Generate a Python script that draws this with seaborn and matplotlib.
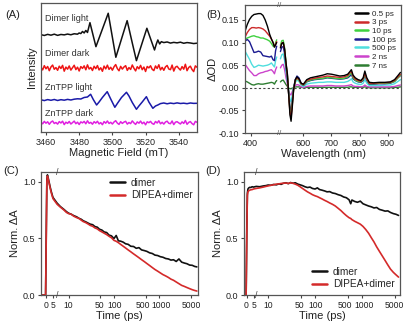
import numpy as np
import matplotlib
matplotlib.use("Agg")
import matplotlib.pyplot as plt
import matplotlib.transforms as mtrans
import seaborn as sns

# ---------------- data ----------------
# (A) EPR spectra: signal relative to each trace baseline
dl_field = [3457, 3459, 3461, 3463, 3465, 3467, 3469, 3471, 3473, 3475, 3477, 3479, 3480, 3481, 3482, 3483,
            3484, 3485, 3486.5, 3488, 3490.1, 3492, 3494, 3496, 3497.5, 3499, 3500.5, 3502.1, 3504, 3506,
            3508.9, 3510, 3512, 3514.5, 3516, 3518, 3520.8, 3522, 3524, 3525.4, 3526.5, 3527.4, 3528.5,
            3529.5, 3531, 3533, 3535, 3537, 3539, 3541, 3543, 3545, 3547, 3549, 3551]
dl_signal = [0.3, -0.5, 0.6, -0.2, 0.8, -0.4, 0.5, 0.1, 0.9, 0.2, 1.2, 0.8, 2.0, 1.4, 3.5, 2.0,
             4.5, 2.5, 12.3, 2.3, -11.7, -3.1, 5.9, 14.9, 21.7, 7.4, -7.0, -22.3, -12.1, -1.3,
             14.3, 6.5, -8.0, -25.7, -18.0, -7.7, 6.7, 1.0, -8.4, -15.0, -9.0, -5.0, -9.0,
             -6.7, -7.6, -7.0, -8.1, -7.4, -7.9, -7.2, -8.3, -7.6, -8.0, -8.6, -8.2]
dd_noise = [0.6, -1.9, 2.3, -0.8, 1.5, -2.7, 1.0, 2.9, -1.3, 0.4,
            -2.3, 1.8, -0.5, 2.6, -3.2, 0.9, -1.2, 2.0, -2.1, 0.3,
            2.7, -1.6, 0.8, -3.0, 1.4, -0.4, 2.1, -1.8, 3.1, -1.0,
            0.5, -2.5, 1.7, -0.7, 2.4, -2.0, 0.2, -3.3, 1.9, -0.9,
            2.8, -1.4, 0.7, -2.2, 1.2, 3.4, -0.6, -2.8, 1.6, -1.1,
            1.0, 2.3, -2.4, 0.4, -1.5, 3.0, -0.3, -2.9, 1.3, -0.8,
            2.6, -1.7, 0.9, -3.5, 1.5, 0.1, 2.2, -1.3, -2.6, 2.0,
            -0.5, 3.2, -1.9, 0.6, -2.3, 1.1, 2.5, -1.0, -1.7, 2.9,
            -3.1, 0.8, 1.7, -0.4, -2.1, 1.4, -1.2, 3.7, -2.7, 0.5,
            1.8, -1.5, -3.6, 2.1, 0.7]
zl_field = [3457, 3459, 3461, 3463, 3465, 3467, 3469, 3471, 3473, 3475, 3477, 3479, 3481, 3483, 3485,
            3486.9, 3488.5, 3490.5, 3492, 3494, 3496.9, 3499, 3501.5, 3503, 3505.5, 3508.5, 3510, 3512,
            3514.5, 3516, 3518, 3520.5, 3522, 3524.4, 3526, 3527.4, 3529, 3531, 3533, 3535, 3537, 3539,
            3541, 3543, 3545, 3547, 3549, 3551]
zl_signal = [0.2, -0.6, 0.4, -0.3, 0.5, -0.5, 0.3, -0.2, 0.6, 0.0, 0.8, 1.2, 1.0, 2.5, 3.0,
             5.7, 0.5, -5.0, -2.0, 2.5, 8.3, 1.0, -7.3, -3.5, 2.5, 7.7, 4.0, -2.5,
             -9.3, -6.0, -2.0, 3.3, -2.0, -8.3, -6.0, -5.0, -3.6, -3.0, -3.8, -3.1, -3.6, -2.9,
             -3.5, -3.2, -3.7, -3.0, -3.4, -3.3]
zd_noise = [0.4, -1.1, 1.3, -0.5, 0.9, -1.6, 0.6, 1.7, -0.8, 0.2,
            -1.4, 1.1, -0.3, 1.5, -1.9, 0.5, -0.7, 1.2, -1.3, 0.1,
            1.6, -1.0, 0.5, -1.8, 0.8, -0.2, 1.3, -1.1, 1.9, -0.6,
            0.3, -1.5, 1.0, -0.4, 1.4, -1.2, 0.1, -2.0, 1.1, -0.5,
            1.7, -0.8, 0.4, -1.3, 0.7, 2.0, -0.4, -1.7, 1.0, -0.7,
            0.6, 1.4, -1.4, 0.2, -0.9, 1.8, -0.2, -1.7, 0.8, -0.5,
            1.6, -1.0, 0.5, -2.1, 0.9, 0.0, 1.3, -0.8, -1.6, 1.2,
            -0.3, 1.9, -1.1, 0.4, -1.4, 0.7, 1.5, -0.6, -1.0, 1.7,
            -1.9, 0.5, 1.0, -0.2, -1.3, 0.8, -0.7, 2.2, -1.6, 0.3,
            1.1, -0.9, -2.1, 1.3, 0.4]
epr_labels = ["Dimer light", "Dimer dark", "ZnTPP light", "ZnTPP dark"]
epr_ticks = [3460, 3480, 3500, 3520, 3540]

# (B) transient absorption spectra
b_labels = ["0.5 ps", "3 ps", "10 ps", "100 ps", "500 ps", "2 ns", "7 ns"]
wl_left = [380, 388, 396, 404, 412, 420, 428, 436, 444, 452, 460, 468, 474, 480, 485, 489, 493]
wl_right = [518, 523, 528, 533, 538, 543, 548, 552, 556, 560, 565, 571, 577, 584, 592, 600, 612, 625,
            640, 655, 670, 685, 700, 715, 730, 745, 758, 766, 771, 777, 785, 795, 805, 813, 819, 826,
            835, 850, 870, 890, 910, 925, 937, 946]
od_left = {
    "0.5 ps": [.125, .140, .151, .158, .162, .163, .164, .164, .160, .150, .136, .118, .108, .100, .090, .095, .100],
    "3 ps":   [.112, .122, .129, .133, .133, .132, .133, .132, .130, .126, .120, .114, .108, .100, .091, .096, .102],
    "10 ps":  [.108, .110, .112, .114, .115, .113, .112, .110, .110, .108, .106, .103, .098, .092, .090, .100, .106],
    "100 ps": [.103, .107, .102, .090, .078, .079, .081, .079, .071, .070, .069, .068, .070, .062, .060, .082, .092],
    "500 ps": [.081, .072, .063, .052, .045, .047, .050, .049, .048, .049, .050, .052, .055, .050, .046, .060, .068],
    "2 ns":   [.052, .045, .038, .033, .027, .027, .031, .033, .034, .036, .037, .039, .040, .036, .031, .040, .046],
    "7 ns":   [.015, .013, .010, .007, .006, .008, .009, .008, .008, .009, .010, .011, .012, .011, .008, .013, .016],
}
od_right = {
    "0.5 ps": [.088, .098, .100, .085, .055, .030, -.020, -.060, -.074, -.045, -.005, .018, .024, .020, .010, .008,
               .018, .022, .024, .026, .028, .031, .030, .028, .026, .027, .030, .036, .040, .028, .022, .018,
               .016, .022, .037, .022, .012, .011, .012, .012, .013, .018, .027, .034],
    "3 ps":   [.090, .099, .100, .084, .052, .026, -.020, -.055, -.066, -.040, -.004, .016, .022, .018, .009, .007,
               .016, .019, .021, .023, .024, .026, .025, .024, .023, .024, .027, .034, .036, .025, .019, .016,
               .014, .020, .032, .019, .010, .010, .011, .011, .012, .016, .024, .030],
    "10 ps":  [.094, .104, .105, .088, .054, .026, -.018, -.050, -.060, -.036, -.003, .015, .021, .017, .008, .006,
               .014, .017, .019, .020, .021, .023, .022, .021, .020, .021, .024, .030, .033, .022, .017, .014,
               .013, .018, .030, .018, .009, .009, .010, .010, .011, .014, .022, .028],
    "100 ps": [.080, .090, .091, .075, .045, .020, -.018, -.042, -.050, -.030, .000, .018, .026, .022, .010, .005,
               .013, .016, .018, .019, .020, .022, .021, .020, .019, .020, .022, .026, .030, .020, .016, .013,
               .012, .016, .028, .016, .008, .008, .009, .009, .010, .014, .022, .027],
    "500 ps": [.064, .073, .075, .060, .035, .014, -.012, -.026, -.031, -.018, .002, .012, .017, .014, .006, .003,
               .008, .010, .011, .012, .012, .013, .013, .012, .012, .012, .014, .017, .020, .013, .010, .008,
               .007, .010, .018, .010, .005, .005, .005, .006, .006, .009, .014, .018],
    "2 ns":   [.044, .050, .052, .040, .022, .008, -.008, -.014, -.016, -.009, .000, .005, .007, .006, .002, .001,
               .003, .004, .004, .004, .004, .005, .005, .004, .004, .004, .005, .006, .007, .004, .003, .003,
               .002, .003, .006, .003, .002, .002, .002, .002, .002, .003, .005, .006],
    "7 ns":   [.013, .016, .017, .012, .007, .003, -.001, -.002, -.002, -.001, .000, .002, .002, .002, .001, .000,
               .001, .001, .001, .001, .001, .001, .001, .001, .001, .001, .001, .002, .002, .001, .001, .001,
               .001, .001, .002, .001, .000, .000, .000, .000, .000, .001, .001, .002],
}
b_xticks = [400, 600, 700, 800, 900]
b_yticks = [-0.10, -0.05, 0.00, 0.05, 0.10, 0.15]

# (C) kinetics
c_t = [-6, -0.3, 0.2, 0.6, 1.0, 1.6, 2.3, 3.0, 3.8, 4.5, 5.0, 5.6, 6.6, 7.9, 9, 10, 11.5, 13, 15, 17,
       19, 21, 24, 27, 30, 34, 38, 43, 48, 54, 61, 69, 78, 88, 100, 112, 125, 140, 160, 180,
       205, 235, 270, 310, 355, 405, 465, 530, 610, 700, 800, 920, 1050, 1200, 1380, 1580, 1800, 2050,
       2350, 2700, 3100, 3550, 4050, 4650, 5300, 6000, 6700]
c_dimer = [0, 0, 0.60, 1.02, 1.06, 1.03, 0.99, 0.95, 0.91, 0.88, 0.86, 0.81, 0.78, 0.755, 0.735, 0.722,
           0.712, 0.700, 0.690, 0.676, 0.668, 0.655, 0.645, 0.634, 0.625, 0.620, 0.604, 0.598, 0.580, 0.573,
           0.556, 0.551, 0.528, 0.522, 0.498, 0.525, 0.478, 0.475, 0.466, 0.452, 0.447, 0.430, 0.428, 0.412,
           0.418, 0.398, 0.392, 0.385, 0.372, 0.366, 0.352, 0.348, 0.338, 0.333, 0.322, 0.318, 0.308, 0.311,
           0.296, 0.318, 0.290, 0.282, 0.276, 0.264, 0.262, 0.252, 0.248]
c_dipea = [0, 0, 0.55, 1.00, 1.05, 1.02, 0.98, 0.94, 0.90, 0.87, 0.85, 0.80, 0.775, 0.75, 0.728, 0.718,
           0.712, 0.695, 0.683, 0.675, 0.660, 0.648, 0.638, 0.626, 0.614, 0.606, 0.592, 0.583, 0.568, 0.557,
           0.545, 0.533, 0.518, 0.505, 0.482, 0.474, 0.462, 0.447, 0.430, 0.415, 0.398, 0.381, 0.363, 0.346,
           0.329, 0.312, 0.295, 0.278, 0.260, 0.242, 0.225, 0.210, 0.195, 0.180, 0.168, 0.155, 0.140, 0.130,
           0.115, 0.100, 0.085, 0.076, 0.066, 0.056, 0.047, 0.040, 0.035]

# (D) kinetics
d_t = [-2.5, -0.3, 0.2, 0.6, 1.0, 1.6, 2.3, 3.0, 4.0, 5.0, 5.6, 6.6, 7.9, 9, 10, 11.5, 13, 15, 17, 19,
       21, 24, 27, 30, 34, 38, 43, 48, 54, 61, 69, 78, 88, 100, 112, 125, 140, 160, 180, 205,
       235, 270, 310, 355, 405, 465, 530, 575, 610, 700, 800, 920, 1050, 1200, 1380, 1580, 1800, 2050,
       2350, 2700, 3100, 3550, 4050, 4650, 5300, 6000]
d_dimer = [0, 0, 0.60, 0.90, 0.935, 0.945, 0.95, 0.948, 0.955, 0.952, 0.958, 0.955, 0.962, 0.965, 0.97,
           0.968, 0.975, 0.972, 0.98, 0.976, 0.985, 0.99, 0.982, 0.992, 0.986, 0.99, 0.978, 0.972, 0.965,
           0.955, 0.948, 0.952, 0.94, 0.935, 0.945, 0.93, 0.925, 0.918, 0.91, 0.912, 0.90, 0.895, 0.885,
           0.878, 0.865, 0.858, 0.84, 0.805, 0.838, 0.825, 0.818, 0.828, 0.805, 0.795, 0.785, 0.778, 0.768,
           0.772, 0.755, 0.748, 0.74, 0.742, 0.728, 0.718, 0.712, 0.702]
d_dipea = [0, 0, 0.55, 0.88, 0.91, 0.92, 0.925, 0.928, 0.93, 0.935, 0.94, 0.945, 0.952, 0.958, 0.962,
           0.968, 0.972, 0.978, 0.98, 0.984, 0.986, 0.988, 0.984, 0.99, 0.985, 0.978, 0.968, 0.955, 0.94,
           0.925, 0.91, 0.898, 0.885, 0.875, 0.868, 0.858, 0.848, 0.835, 0.825, 0.812, 0.80, 0.785, 0.765,
           0.745, 0.722, 0.70, 0.682, 0.675, 0.665, 0.65, 0.638, 0.625, 0.605, 0.578, 0.545, 0.505, 0.468,
           0.425, 0.385, 0.345, 0.305, 0.265, 0.228, 0.20, 0.178, 0.158]
kin_labels = ["dimer", "DIPEA+dimer"]
t_ticks = [0, 5, 10, 50, 100, 500, 1000, 5000]
t_ticklabels = ["0", "5", "10", "50", "100", "500", "1000", "5000"]
n_ticks = [0.0, 0.5, 1.0]

# ---------------- style ----------------
sns.set_theme(style="ticks")
plt.rcParams['font.family'] = ['Liberation Sans', 'DejaVu Sans']
plt.rcParams.update({
    'axes.edgecolor': '#555555', 'axes.linewidth': 0.9,
    'xtick.color': '#444444', 'ytick.color': '#444444',
    'xtick.labelcolor': '#222222', 'ytick.labelcolor': '#222222',
    'xtick.major.size': 2.5, 'ytick.major.size': 2.5,
    'xtick.major.width': 0.8, 'ytick.major.width': 0.8,
    'xtick.major.pad': 1.5, 'ytick.major.pad': 1.5,
    'xtick.labelsize': 6.5, 'ytick.labelsize': 6.5,
    'axes.labelsize': 8, 'axes.labelcolor': '#222222',
})

fig = plt.figure(figsize=(4.15, 3.29), dpi=100)
axA = fig.add_axes([0.0988, 0.5988, 0.3759, 0.3922])
axB = fig.add_axes([0.5904, 0.5957, 0.3759, 0.3891])
axC = fig.add_axes([0.0988, 0.1033, 0.3783, 0.3739])
axD = fig.add_axes([0.5880, 0.1033, 0.3759, 0.3739])


def line(ax, x, y, color, lw=1.0, z=2):
    sns.lineplot(x=np.asarray(x, float), y=np.asarray(y, float), ax=ax, color=color,
                 lw=lw, estimator=None, sort=False, legend=False, zorder=z)
    return ax.lines[-1]


# ---------------- (A) ----------------
offsets = [97, 64, 32, 9.3]
a_colors = ["#111111", "#ee1515", "#1a1aa8", "#e020e0"]
dd_field = np.linspace(3457, 3551, len(dd_noise))
zd_field = np.linspace(3457, 3551, len(zd_noise))
line(axA, dl_field, np.asarray(dl_signal) + offsets[0], a_colors[0], 1.1)
line(axA, dd_field, np.asarray(dd_noise) + offsets[1], a_colors[1], 1.1)
line(axA, zl_field, np.asarray(zl_signal) + offsets[2], a_colors[2], 1.1)
line(axA, zd_field, np.asarray(zd_noise) + offsets[3], a_colors[3], 1.1)
axA.set_xlim(3457, 3551)
axA.set_ylim(0, 129)
axA.set_xticks(epr_ticks)
axA.set_yticks([])
axA.set_xlabel("Magnetic Field (mT)", labelpad=1)
axA.set_ylabel("Intensity", labelpad=3)
for lab, yy in zip(epr_labels, [0.881, 0.61, 0.347, 0.145]):
    axA.text(0.026, yy, lab, transform=axA.transAxes, fontsize=6.5, color="#333333",
             ha="left", va="center")

# ---------------- (B) ----------------
EPS = 0.02
B0, BW = 502.0, 12.0


def fwd_b(x):
    x = np.asarray(x, float)
    return np.where(x <= B0, x, np.where(x >= B0 + BW, x - BW + BW * EPS, B0 + (x - B0) * EPS))


def inv_b(f):
    f = np.asarray(f, float)
    return np.where(f <= B0, f, np.where(f >= B0 + BW * EPS, f + BW - BW * EPS, B0 + (f - B0) / EPS))


axB.set_xscale('function', functions=(fwd_b, inv_b))
b_colors = {"0.5 ps": "#000000", "3 ps": "#cc2a2a", "10 ps": "#3fd13f", "100 ps": "#1a1a90",
            "500 ps": "#4fdede", "2 ns": "#cc44cc", "7 ns": "#2e7d32"}
axB.axhline(0, color="#444444", lw=0.8, ls=(0, (2, 2)), zorder=1)
handles = {}
for lab in reversed(b_labels):
    line(axB, wl_left, od_left[lab], b_colors[lab], 1.0)
    handles[lab] = line(axB, wl_right, od_right[lab], b_colors[lab], 1.0)
axB.set_xlim(380, 948)
axB.set_ylim(-0.10, 0.183)
axB.set_xticks(b_xticks)
axB.set_xticklabels([str(v) for v in b_xticks])
axB.xaxis.set_minor_locator(matplotlib.ticker.NullLocator())
axB.set_yticks(b_yticks)
axB.set_yticklabels([f"{v:.2f}" for v in b_yticks])
axB.set_xlabel("Wavelength (nm)", labelpad=1)
axB.set_ylabel("ΔOD", labelpad=1)
axB.legend([handles[l] for l in b_labels], b_labels, loc="upper right", frameon=False,
           fontsize=5.8, handlelength=1.6, handletextpad=0.5, labelspacing=0.12,
           borderaxespad=0.3, borderpad=0.35)
for lg in axB.get_legend().get_lines():
    lg.set_linewidth(1.8)
for yy in (1.0, 0.0):
    axB.text(B0 + 1, yy, "//", transform=axB.get_xaxis_transform(), fontsize=5.5,
             ha="center", va="center", color="#555555", clip_on=False)


# ---------------- (C) & (D) ----------------
def time_scale(k, gap, dec):
    def fwd(t):
        t = np.asarray(t, float)
        return np.where(t <= 5, k * t, 5 * k + gap + dec * np.log10(np.maximum(t, 5) / 5))

    def inv(f):
        f = np.asarray(f, float)
        return np.where(f <= 5 * k, f / k, np.where(f < 5 * k + gap, 5.0,
                        5 * 10 ** ((np.maximum(f, 5 * k + gap) - 5 * k - gap) / dec)))
    return fwd, inv


label_shift = {"500": -2.5, "1000": 2.0, "50": -1.0, "100": 1.0}
k_colors = ["#111111", "#d42a2a"]
for ax, t, ys, xl, sc, loc in [
        (axC, c_t, (c_dimer, c_dipea), (-3.6, 7100), time_scale(1.4, 1.9, 45.5), "upper right"),
        (axD, d_t, (d_dimer, d_dipea), (-1.8, 6450), time_scale(1.4, 0.4, 46.9), "lower right")]:
    ax.set_xscale('function', functions=sc)
    hs = [line(ax, t, y, c, 1.2) for y, c in zip(ys, k_colors)]
    ax.set_xlim(*xl)
    ax.set_ylim(0, 1.085)
    ax.set_xticks(t_ticks)
    ax.set_xticklabels(t_ticklabels, fontsize=6.2)
    for tl in ax.get_xticklabels():
        dx = label_shift.get(tl.get_text(), 0.0)
        if dx:
            tl.set_transform(tl.get_transform() + mtrans.ScaledTranslation(dx / 100, 0, fig.dpi_scale_trans))
    ax.xaxis.set_minor_locator(matplotlib.ticker.NullLocator())
    ax.set_yticks(n_ticks)
    ax.set_yticklabels([f"{v:.1f}" for v in n_ticks])
    ax.set_xlabel("Time (ps)", labelpad=1)
    ax.set_ylabel("Norm. ΔA", labelpad=2)
    leg = ax.legend(hs, kin_labels, loc=loc, frameon=False, fontsize=7.3, handlelength=1.4,
                    handletextpad=0.6, labelspacing=0.25, borderaxespad=0.25, borderpad=0.3)
    for lg in leg.get_lines():
        lg.set_linewidth(1.8)
    for yy in (1.0, 0.0):
        ax.text(5.6, yy, "/", transform=ax.get_xaxis_transform(), fontsize=6.5,
                ha="center", va="center", color="#444444", clip_on=False)

# panel letters
for lab, x, y in [("(A)", 0.012, 0.955), ("(B)", 0.498, 0.955), ("(C)", 0.008, 0.48), ("(D)", 0.494, 0.48)]:
    fig.text(x, y, lab, fontsize=8, color="#222222", ha="left", va="center")

fig.savefig("out.png", dpi=100)
